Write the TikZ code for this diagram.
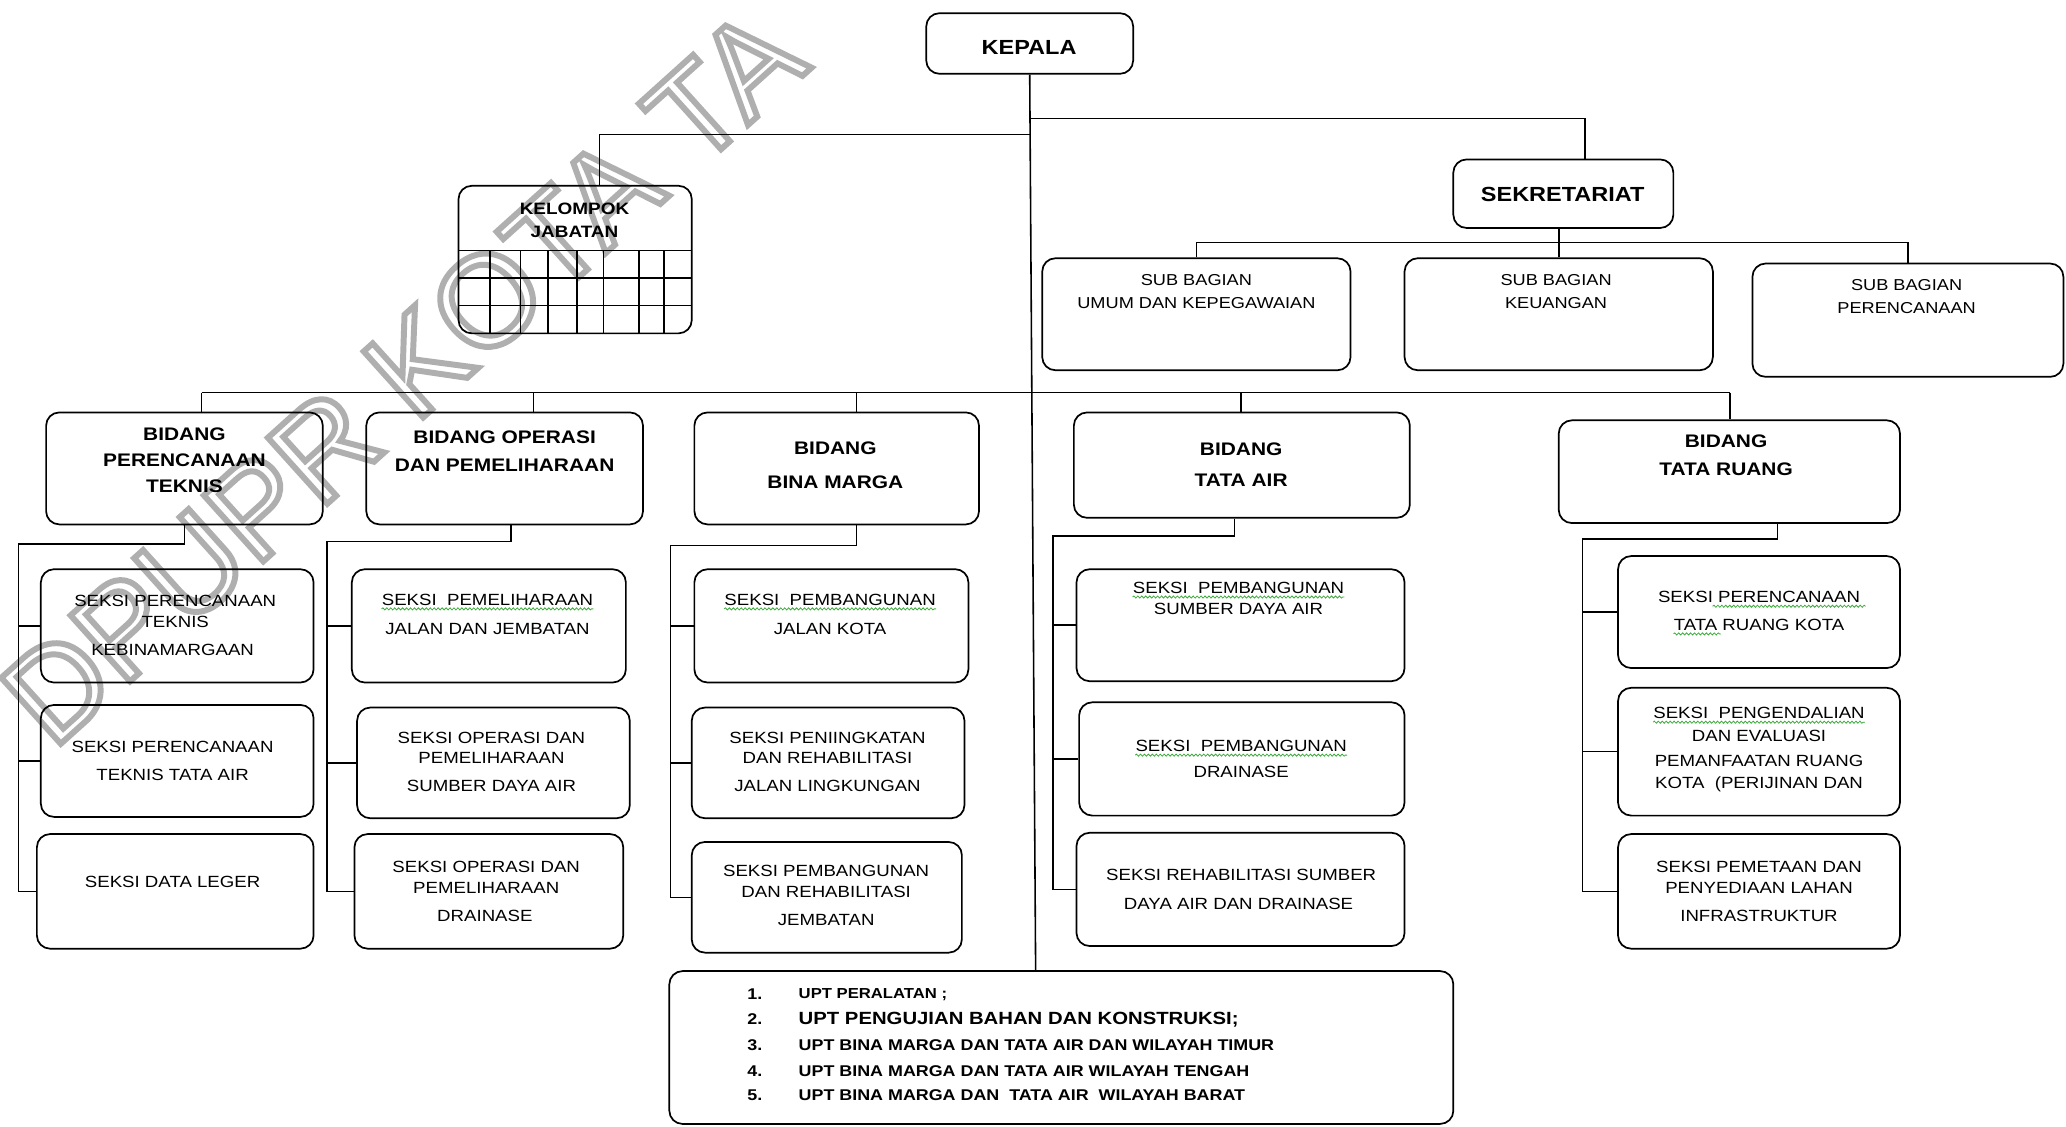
\documentclass[tikz,border=0pt]{standalone}
\usepackage{fontspec}
\setmainfont{Liberation Sans}[FakeStretch=1.15]
\newfontfamily\wmfont{Liberation Sans}
\usetikzlibrary{decorations.pathmorphing}
\definecolor{wmgray}{RGB}{175,175,175}
\definecolor{wavygreen}{RGB}{60,170,60}
\tikzset{
  box/.style={draw, line width=1.3pt, rounded corners=10pt, inner sep=0pt},
  conn/.style={draw, line width=1.2pt},
  kgrid/.style={draw, line width=1.2pt},
  tl/.style={inner sep=0pt, text depth=0pt},
  tkep/.style={tl, font=\bfseries\fontsize{15.5}{17}\selectfont, text height=11.2pt},
  tbid/.style={tl, font=\bfseries\fontsize{13.8}{15}\selectfont, text height=9.9pt},
  tkel/.style={tl, font=\bfseries\fontsize{12.5}{14}\selectfont, text height=9pt},
  tsub/.style={tl, font=\fontsize{12}{14}\selectfont, text height=8.6pt},
  tsek/.style={tl, font=\fontsize{12.3}{14}\selectfont, text height=8.8pt},
  tupt/.style={tl, anchor=west, font=\bfseries\fontsize{11.8}{13}\selectfont, text height=8.5pt},
  wavy/.style={draw=wavygreen, line width=0.6pt, decorate, decoration={snake, amplitude=0.8pt, segment length=3pt}},
}
\newcommand\bx[5]{\node[box, minimum width={(#4-#2)*1pt}, minimum height={(#5-#3)*1pt}] (#1) at ({(#2+#4)/2},{(#3+#5)/2}) {};}
\newcommand\tx[4]{\node[#1] (#2) at (#3) {#4};}
\begin{document}
\begin{tikzpicture}[x=1pt,y=-1pt]
\fill[white] (0,0) rectangle (1568,855);
\useasboundingbox (0,0) rectangle (1568,855);
% watermark
\begin{scope}
  \clip (0,0) rectangle (1568,855);
  \node[anchor=base west, rotate=42, inner sep=0pt, text=wmgray, font=\wmfont\fontsize{98}{98}\selectfont] (wmark) at (40,570) {\special{pdf:literal direct 1 Tr 4.5 w}DPUPR KOTA TA\special{pdf:literal direct 0 Tr}};
\end{scope}
% boxes
\bx{kep}{703}{10}{860}{56}
\bx{kel}{348}{141}{525}{253}
\bx{sek}{1103}{121}{1270}{173}
\bx{subA}{791}{196}{1025}{281}
\bx{subB}{1066}{196}{1300}{281}
\bx{subC}{1330}{200}{1566}{286}
\bx{bidA}{35}{313}{245}{398}
\bx{bidB}{278}{313}{488}{398}
\bx{bidC}{527}{313}{743}{398}
\bx{bidD}{815}{313}{1070}{393}
\bx{bidE}{1183}{319}{1442}{397}
\bx{sA}{31}{432}{238}{518}
\bx{sB}{31}{535}{238}{620}
\bx{sC}{28}{633}{238}{720}
\bx{sD}{267}{432}{475}{518}
\bx{sE}{271}{537}{478}{621}
\bx{sF}{269}{633}{473}{720}
\bx{sG}{527}{432}{735}{518}
\bx{sH}{525}{537}{732}{621}
\bx{sI}{525}{639}{730}{723}
\bx{sJ}{817}{432}{1066}{517}
\bx{sK}{819}{533}{1066}{619}
\bx{sL}{817}{632}{1066}{718}
\bx{sM}{1228}{422}{1442}{507}
\bx{sN}{1228}{522}{1442}{619}
\bx{sO}{1228}{633}{1442}{720}
\bx{upt}{508}{737}{1103}{853}
% kelompok jabatan grid
\foreach \yy in {190,211,232} \draw[kgrid] (348,\yy) -- (525,\yy);
\foreach \xx in {372,395,416,438,458,485,504} \draw[kgrid] (\xx,190) -- (\xx,253);
% texts
\tx{tkep}{k1}{781,36}{KEPALA}
\tx{tkep}{sk1}{1186,147}{SEKRETARIAT}
\tx{tkel}{kl1}{436,158}{KELOMPOK}
\tx{tkel}{kl2}{436,176}{JABATAN}
\tx{tsub}{ua1}{908,212}{SUB BAGIAN}
\tx{tsub}{ua2}{908,230}{UMUM DAN KEPEGAWAIAN}
\tx{tsub}{ub1}{1181,212}{SUB BAGIAN}
\tx{tsub}{ub2}{1181,230}{KEUANGAN}
\tx{tsub}{uc1}{1447,216}{SUB BAGIAN}
\tx{tsub}{uc2}{1447,234}{PERENCANAAN}
\tx{tbid}{ba1}{140,329}{BIDANG}
\tx{tbid}{ba2}{140,349}{PERENCANAAN}
\tx{tbid}{ba3}{140,369}{TEKNIS}
\tx{tbid}{bb1}{383,332}{BIDANG OPERASI}
\tx{tbid}{bb2}{383,353}{DAN PEMELIHARAAN}
\tx{tbid}{bc1}{634,340}{BIDANG}
\tx{tbid}{bc2}{634,366}{BINA MARGA}
\tx{tbid}{bd1}{942,341}{BIDANG}
\tx{tbid}{bd2}{942,364}{TATA AIR}
\tx{tbid}{be1}{1310,335}{BIDANG}
\tx{tbid}{be2}{1310,356}{TATA RUANG}
\tx{tsek}{a1}{133,456}{SEKSI PERENCANAAN}
\tx{tsek}{a2}{133,472}{TEKNIS}
\tx{tsek}{a3}{131,493}{KEBINAMARGAAN}
\tx{tsek}{b1}{131,567}{SEKSI PERENCANAAN}
\tx{tsek}{b2}{131,588}{TEKNIS TATA AIR}
\tx{tsek}{c1}{131,669}{SEKSI DATA LEGER}
\tx{tsek}{d1}{370,455}{SEKSI~~PEMELIHARAAN}
\tx{tsek}{d2}{370,477}{JALAN DAN JEMBATAN}
\tx{tsek}{e1}{373,560}{SEKSI OPERASI DAN}
\tx{tsek}{e2}{373,575}{PEMELIHARAAN}
\tx{tsek}{e3}{373,596}{SUMBER DAYA AIR}
\tx{tsek}{f1}{369,658}{SEKSI OPERASI DAN}
\tx{tsek}{f2}{369,674}{PEMELIHARAAN}
\tx{tsek}{f3}{368,695}{DRAINASE}
\tx{tsek}{g1}{630,455}{SEKSI~~PEMBANGUNAN}
\tx{tsek}{g2}{630,477}{JALAN KOTA}
\tx{tsek}{h1}{628,560}{SEKSI PENIINGKATAN}
\tx{tsek}{h2}{628,575}{DAN REHABILITASI}
\tx{tsek}{h3}{628,596}{JALAN LINGKUNGAN}
\tx{tsek}{i1}{627,661}{SEKSI PEMBANGUNAN}
\tx{tsek}{i2}{627,677}{DAN REHABILITASI}
\tx{tsek}{i3}{627,698}{JEMBATAN}
\tx{tsek}{j1}{940,446}{SEKSI~~PEMBANGUNAN}
\tx{tsek}{j2}{940,462}{SUMBER DAYA AIR}
\tx{tsek}{k1a}{942,566}{SEKSI~~PEMBANGUNAN}
\tx{tsek}{k2a}{942,586}{DRAINASE}
\tx{tsek}{l1}{942,664}{SEKSI REHABILITASI SUMBER}
\tx{tsek}{l2}{940,686}{DAYA AIR DAN DRAINASE}
\tx{tsek}{m1}{1335,453}{SEKSI PERENCANAAN}
\tx{tsek}{m2}{1335,474}{TATA RUANG KOTA}
\tx{tsek}{n1}{1335,541}{SEKSI~~PENGENDALIAN}
\tx{tsek}{n2}{1335,558}{DAN EVALUASI}
\tx{tsek}{n3}{1335,577}{PEMANFAATAN RUANG}
\tx{tsek}{n4}{1335,594}{KOTA~~(PERIJINAN DAN}
\tx{tsek}{o1}{1335,658}{SEKSI PEMETAAN DAN}
\tx{tsek}{o2}{1335,674}{PENYEDIAAN LAHAN}
\tx{tsek}{o3}{1335,695}{INFRASTRUKTUR}
% UPT list
\tx{tupt}{un1}{567,754}{1.}
\tx{tupt}{un2}{567,773}{2.}
\tx{tupt}{un3}{567,793}{3.}
\tx{tupt}{un4}{567,813}{4.}
\tx{tupt}{un5}{567,831}{5.}
\tx{tupt, font=\bfseries\fontsize{11}{13}\selectfont, text height=7.9pt}{ut1}{606,754}{UPT PERALATAN ;}
\tx{tupt, font=\bfseries\fontsize{13.4}{15}\selectfont, text height=9.6pt}{ut2}{606,773}{UPT PENGUJIAN BAHAN DAN KONSTRUKSI;}
\tx{tupt}{ut3}{606,793}{UPT BINA MARGA DAN TATA AIR DAN WILAYAH TIMUR}
\tx{tupt}{ut4}{606,813}{UPT BINA MARGA DAN TATA AIR WILAYAH TENGAH}
\tx{tupt}{ut5}{606,831}{UPT BINA MARGA DAN~~TATA AIR~~WILAYAH BARAT}
% wavy spell marks
\foreach \n in {d1,g1,j1,k1a,n1}
  \draw[wavy] ([yshift=-2.5pt]\n.south west) -- ([yshift=-2.5pt]\n.south east);
\draw[wavy] ([xshift=-112pt,yshift=-2.5pt]m1.south east) -- ([xshift=4pt,yshift=-2.5pt]m1.south east);
\draw[wavy] ([yshift=-2.5pt]m2.south west) -- ([xshift=36pt,yshift=-2.5pt]m2.south west);
% connectors: top level
\coordinate (spineEnd) at (786,737);
\draw[conn] (kep.south) -- (spineEnd);
\coordinate (jS) at (781.5,90);
\coordinate (jK) at (781.5,102);
\draw[conn] (jS) -| ([xshift=16.5pt]sek.north);
\draw[conn] (jK) -| ([xshift=18.5pt]kel.north);
% sekretariat
\coordinate (busS) at (1183,184);
\draw[conn] (subA.north) |- (busS) -| (subC.north);
\draw[conn] (subB.north) -- (subB.north |- sek.south);
% bidang bus
\coordinate (dA) at (153,298);
\coordinate (dB) at (405,298);
\coordinate (dC) at (650,298);
\coordinate (dD) at (942,298);
\coordinate (dE) at (1313,298);
\draw[conn] (dA) -- (dE);
\draw[conn] (dA) -- (dA |- bidA.north);
\draw[conn] (dB) -- (dB |- bidB.north);
\draw[conn] (dC) -- (dC |- bidC.north);
\draw[conn] (dD) -- (dD |- bidD.north);
\draw[conn] (dE) -- (dE |- bidE.north);
% column A
\coordinate (cA) at (14,413);
\draw[conn] (bidA.south) |- (cA) |- (sC.west);
\draw[conn] (cA |- sA.west) -- (sA.west);
\draw[conn] (cA |- sB.west) -- (sB.west);
% column B
\coordinate (cB) at (248,411);
\draw[conn] ([xshift=5pt]bidB.south) |- (cB) |- (sF.west);
\draw[conn] (cB |- sD.west) -- (sD.west);
\draw[conn] (cB |- sE.west) -- (sE.west);
% column C
\coordinate (cC) at (509,414);
\draw[conn] ([xshift=15pt]bidC.south) |- (cC) |- (sI.west);
\draw[conn] (cC |- sG.west) -- (sG.west);
\draw[conn] (cC |- sH.west) -- (sH.west);
% column D
\coordinate (cD) at (799,407);
\draw[conn] ([xshift=-5.5pt]bidD.south) |- (cD) |- (sL.west);
\draw[conn] (cD |- sJ.west) -- (sJ.west);
\draw[conn] (cD |- sK.west) -- (sK.west);
% column E
\coordinate (cE) at (1201,409);
\draw[conn] ([xshift=36.5pt]bidE.south) |- (cE) |- (sO.west);
\draw[conn] (cE |- sM.west) -- (sM.west);
\draw[conn] (cE |- sN.west) -- (sN.west);
\end{tikzpicture}
\end{document}
